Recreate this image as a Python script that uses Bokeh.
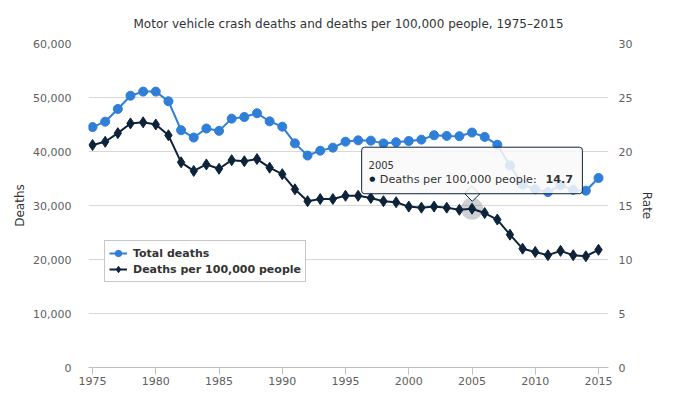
from bokeh.plotting import figure
from bokeh.models import (Range1d, LinearAxis, FixedTicker, NumeralTickFormatter,
                          Legend, LegendItem, Label, ColumnDataSource)
from bokeh.embed import file_html
from bokeh.resources import INLINE

years = list(range(1975, 2016))
total_deaths = [44525, 45523, 47878, 50331, 51093, 51091, 49301, 43945, 42589, 44257,
                43825, 46087, 46390, 47087, 45582, 44599, 41508, 39250, 40150, 40716,
                41817, 42065, 42013, 41501, 41717, 41945, 42196, 43005, 42884, 42836,
                43510, 42708, 41259, 37423, 33883, 32999, 32479, 33782, 32893, 32744,
                35092]
rate = [20.6, 20.9, 21.7, 22.6, 22.7, 22.5, 21.5, 19.0, 18.2, 18.8,
        18.4, 19.2, 19.1, 19.3, 18.5, 17.9, 16.5, 15.4, 15.6, 15.6,
        15.9, 15.9, 15.7, 15.4, 15.3, 14.9, 14.8, 14.9, 14.8, 14.6,
        14.7, 14.3, 13.7, 12.3, 11.0, 10.7, 10.4, 10.8, 10.4, 10.3,
        10.9]
left_ticks = [0, 10000, 20000, 30000, 40000, 50000, 60000]
right_ticks = [0, 5, 10, 15, 20, 25, 30]
x_ticks = [1975, 1980, 1985, 1990, 1995, 2000, 2005, 2010, 2015]
series_names = ["Total deaths", "Deaths per 100,000 people"]
title_text = "Motor vehicle crash deaths and deaths per 100,000 people, 1975\u20132015"
hover_year = 2005

BLUE = "#2f7ed8"
NAVY = "#0d233a"
FONT = "DejaVu Sans"
LABEL_COLOR = "#606060"
TIP_BG = "#f9f9f9"

p = figure(width=661, height=392, output_backend="svg", toolbar_location=None,
           x_range=Range1d(1974.68, 2015.79), y_range=Range1d(0, 60000),
           min_border_left=88, min_border_right=53, min_border_top=43, min_border_bottom=25)
p.outline_line_color = None
p.background_fill_color = "white"
p.border_fill_color = "white"

p.title.text = title_text
p.title.align = "center"
p.title.text_font = FONT
p.title.text_font_size = "12px"
p.title.text_font_style = "normal"
p.title.text_color = "#333333"
p.title.standoff = 25

p.extra_y_ranges = {"rate": Range1d(0, 30)}

# x axis
xa = p.xaxis[0]
xa.ticker = FixedTicker(ticks=x_ticks)
xa.axis_line_color = "#C0C0C0"
xa.major_tick_line_color = "#C0C0C0"
xa.major_tick_out = 7
xa.major_tick_in = 0
xa.minor_tick_line_color = None
xa.major_label_standoff = 2
xa.major_label_text_font = FONT
xa.major_label_text_font_size = "11px"
xa.major_label_text_color = LABEL_COLOR

# left axis
ya = p.yaxis[0]
ya.ticker = FixedTicker(ticks=left_ticks)
ya.formatter = NumeralTickFormatter(format="0,0")
ya.axis_line_color = None
ya.major_tick_line_color = None
ya.major_tick_out = 0
ya.major_tick_in = 0
ya.minor_tick_line_color = None
ya.minor_tick_out = 0
ya.major_label_standoff = 17
ya.major_label_text_font = FONT
ya.major_label_text_font_size = "11px"
ya.major_label_text_color = LABEL_COLOR
ya.axis_label = "Deaths"
ya.axis_label_text_font = FONT
ya.axis_label_text_font_size = "12px"
ya.axis_label_text_font_style = "normal"
ya.axis_label_text_color = "#333333"
ya.axis_label_standoff = 3

# right axis
ra = LinearAxis(y_range_name="rate", ticker=FixedTicker(ticks=right_ticks))
ra.axis_line_color = None
ra.major_tick_line_color = None
ra.major_tick_out = 0
ra.major_tick_in = 0
ra.minor_tick_line_color = None
ra.minor_tick_out = 0
ra.major_label_standoff = 10
ra.major_label_text_font = FONT
ra.major_label_text_font_size = "11px"
ra.major_label_text_color = LABEL_COLOR
ra.axis_label = "Rate"
ra.axis_label_text_font = FONT
ra.axis_label_text_font_size = "12px"
ra.axis_label_text_font_style = "normal"
ra.axis_label_text_color = "#333333"
ra.axis_label_standoff = 5
p.add_layout(ra, "right")

p.xgrid.grid_line_color = None
p.ygrid.ticker = FixedTicker(ticks=left_ticks)
p.ygrid.grid_line_color = "#D8D8D8"
p.ygrid.grid_line_width = 1

src = ColumnDataSource(dict(year=years, total=total_deaths, rate=rate))

l1 = p.line("year", "total", source=src, line_color=BLUE, line_width=2)
m1 = p.scatter("year", "total", source=src, marker="circle", size=9,
               fill_color=BLUE, line_color=BLUE)

hi = years.index(hover_year)
# hover halo
p.scatter([years[hi]], [rate[hi]], y_range_name="rate", marker="circle", size=22,
          fill_color="#5a6670", fill_alpha=0.3, line_color=None)

l2 = p.line("year", "rate", source=src, y_range_name="rate", line_color=NAVY, line_width=2)
m2 = p.scatter("year", "rate", source=src, y_range_name="rate", marker="diamond", size=11,
               fill_color=NAVY, line_color=NAVY)

legend = Legend(items=[LegendItem(label=series_names[0], renderers=[l1, m1]),
                       LegendItem(label=series_names[1], renderers=[l2, m2])],
                location=(16, 85))
legend.label_text_font = FONT
legend.label_text_font_size = "11px"
legend.label_text_font_style = "bold"
legend.label_text_color = "#333333"
legend.border_line_color = "#909090"
legend.border_line_width = 1
legend.background_fill_color = "white"
legend.background_fill_alpha = 1
legend.padding = 4
legend.spacing = 0
legend.margin = 0
legend.glyph_width = 18
legend.glyph_height = 16
legend.label_height = 16
legend.label_standoff = 6
p.add_layout(legend, "center")

# tooltip (static) — notch drawn as a rotated square under the box
notch = Label(x=years[hi], y=rate[hi], y_range_name="rate", anchor="center",
              x_offset=0, y_offset=15, angle=45, angle_units="deg",
              text=" ", text_font=FONT, text_font_size="1px", text_alpha=0.01,
              padding=5, background_fill_color=TIP_BG, background_fill_alpha=1.0,
              border_line_color=NAVY, border_line_width=1)
p.add_layout(notch)

tip_text = str(hover_year) + "\n\u2022 " + series_names[1] + ": " + str(rate[hi])
tip_box = Label(x=years[hi], y=rate[hi], y_range_name="rate", anchor="bottom_center",
                x_offset=0, y_offset=15,
                text=tip_text,
                text_font=FONT, text_font_size="10.7px", text_alpha=0.01,
                text_line_height=1.35,
                padding=dict(left=17, right=17, top=8, bottom=8), border_radius=3,
                background_fill_color=TIP_BG, background_fill_alpha=0.85,
                border_line_color=NAVY, border_line_width=1)
p.add_layout(tip_box)

t_year = Label(x=years[hi], y=rate[hi], y_range_name="rate", x_offset=-103.5, y_offset=44,
               text=str(years[hi]), text_font=FONT, text_font_size="10px",
               text_color="#333333", text_baseline="middle", text_align="left")
p.add_layout(t_year)
t_dot = Label(x=years[hi], y=rate[hi], y_range_name="rate", x_offset=-99.8, y_offset=29.5,
              text="\u25cf", text_font=FONT, text_font_size="7px",
              text_color=NAVY, text_baseline="middle", text_align="center")
p.add_layout(t_dot)
t_line = Label(x=years[hi], y=rate[hi], y_range_name="rate", x_offset=-92.2, y_offset=29.5,
               text=series_names[1] + ":", text_font=FONT, text_font_size="11.2px",
               text_color="#333333", text_baseline="middle", text_align="left")
p.add_layout(t_line)
t_val = Label(x=years[hi], y=rate[hi], y_range_name="rate", x_offset=101, y_offset=29.5,
              text=str(rate[hi]), text_font=FONT, text_font_size="11.2px", text_font_style="bold",
              text_color="#333333", text_baseline="middle", text_align="right")
p.add_layout(t_val)

open("out.html", "w").write(file_html(p, INLINE))
